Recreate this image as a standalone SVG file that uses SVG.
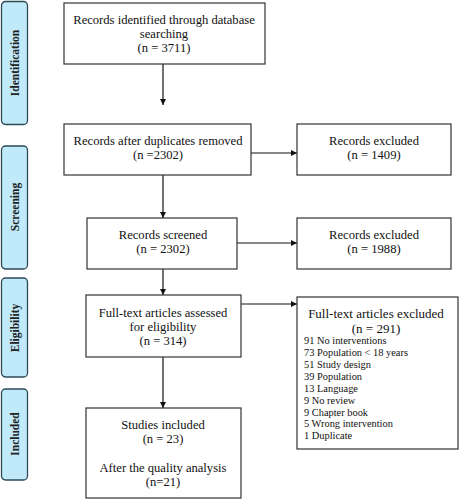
<svg xmlns="http://www.w3.org/2000/svg" width="459" height="500" viewBox="0 0 459 500">
<style>
.box{fill:#fff;stroke:#333;stroke-width:1.2}
.side{fill:#c0eaf9;stroke:#2e4a58;stroke-width:1.3}
.t{font-family:"Liberation Serif",serif;font-size:12.6px;fill:#111;text-anchor:middle}
.l{font-family:"Liberation Serif",serif;font-size:10.4px;fill:#111}
.s{font-family:"Liberation Serif",serif;font-size:11.5px;font-weight:bold;fill:#222;text-anchor:middle}
.c{stroke:#111;stroke-width:1.2;fill:none;marker-end:url(#ah)}
</style>
<defs>
<marker id="ah" viewBox="0 0 10 10" refX="10" refY="5" markerWidth="6" markerHeight="6" markerUnits="userSpaceOnUse" orient="auto"><path d="M0,0 L10,5 L0,10 z" fill="#111"/></marker>
</defs>
<rect width="459" height="500" fill="#fff"/>
<g id="side-identification"><rect class="side" x="1.5" y="1.5" width="26" height="123" rx="4"/><text class="s" transform="translate(18.5,63) rotate(-90)">Identification</text></g>
<g id="side-screening"><rect class="side" x="1.5" y="146" width="26" height="123" rx="4"/><text class="s" transform="translate(18.5,207) rotate(-90)">Screening</text></g>
<g id="side-eligibility"><rect class="side" x="1.5" y="278" width="26" height="99" rx="4"/><text class="s" transform="translate(18.5,328) rotate(-90)">Eligibility</text></g>
<g id="side-included"><rect class="side" x="1.5" y="389" width="26" height="91" rx="4"/><text class="s" transform="translate(18.5,434) rotate(-90)">Included</text></g>

<g id="connectors">
<line class="c" x1="163" y1="64" x2="163" y2="105"/>
<line class="c" x1="163" y1="175" x2="163" y2="218"/>
<line class="c" x1="163" y1="269" x2="163" y2="295"/>
<line class="c" x1="163" y1="357" x2="163" y2="408"/>
<line class="c" x1="251" y1="153" x2="297" y2="153"/>
<line class="c" x1="237" y1="243" x2="297" y2="243"/>
<line class="c" x1="241" y1="304" x2="297" y2="304"/>
</g>

<g id="n1"><rect class="box" x="64" y="3" width="201" height="61"/>
<text class="t" x="164" y="24">Records identified through database</text>
<text class="t" x="164" y="38">searching</text>
<text class="t" x="164" y="52">(n = 3711)</text></g>

<g id="n2"><rect class="box" x="64" y="124" width="187" height="51"/>
<text class="t" x="158" y="145">Records after duplicates removed</text>
<text class="t" x="158" y="159">(n =2302)</text></g>

<g id="n3"><rect class="box" x="297" y="124" width="154" height="51"/>
<text class="t" x="374" y="145">Records excluded</text>
<text class="t" x="374" y="159">(n = 1409)</text></g>

<g id="n4"><rect class="box" x="87" y="218" width="150" height="51"/>
<text class="t" x="163" y="239">Records screened</text>
<text class="t" x="163" y="253">(n = 2302)</text></g>

<g id="n5"><rect class="box" x="297" y="218" width="154" height="51"/>
<text class="t" x="374" y="239">Records excluded</text>
<text class="t" x="374" y="253">(n = 1988)</text></g>

<g id="n6"><rect class="box" x="86" y="295" width="155" height="62"/>
<text class="t" x="163" y="317">Full-text articles assessed</text>
<text class="t" x="163" y="331">for eligibility</text>
<text class="t" x="163" y="345">(n = 314)</text></g>

<g id="n7"><rect class="box" x="297" y="297" width="161" height="152"/>
<text class="t" x="376" y="318" style="font-size:13px">Full-text articles excluded</text>
<text class="t" x="376" y="333" style="font-size:13px">(n = 291)</text>
<text class="l" x="304" y="344">91 No interventions</text>
<text class="l" x="304" y="356">73 Population &lt; 18 years</text>
<text class="l" x="304" y="368">51 Study design</text>
<text class="l" x="304" y="380">39 Population</text>
<text class="l" x="304" y="392">13 Language</text>
<text class="l" x="304" y="404">9 No review</text>
<text class="l" x="304" y="416">9 Chapter book</text>
<text class="l" x="304" y="427">5 Wrong intervention</text>
<text class="l" x="304" y="439">1 Duplicate</text></g>

<g id="n8"><rect class="box" x="86" y="408" width="155" height="90"/>
<text class="t" x="163" y="429">Studies included</text>
<text class="t" x="163" y="443">(n = 23)</text>
<text class="t" x="163" y="472">After the quality analysis</text>
<text class="t" x="163" y="486">(n=21)</text></g>
</svg>
